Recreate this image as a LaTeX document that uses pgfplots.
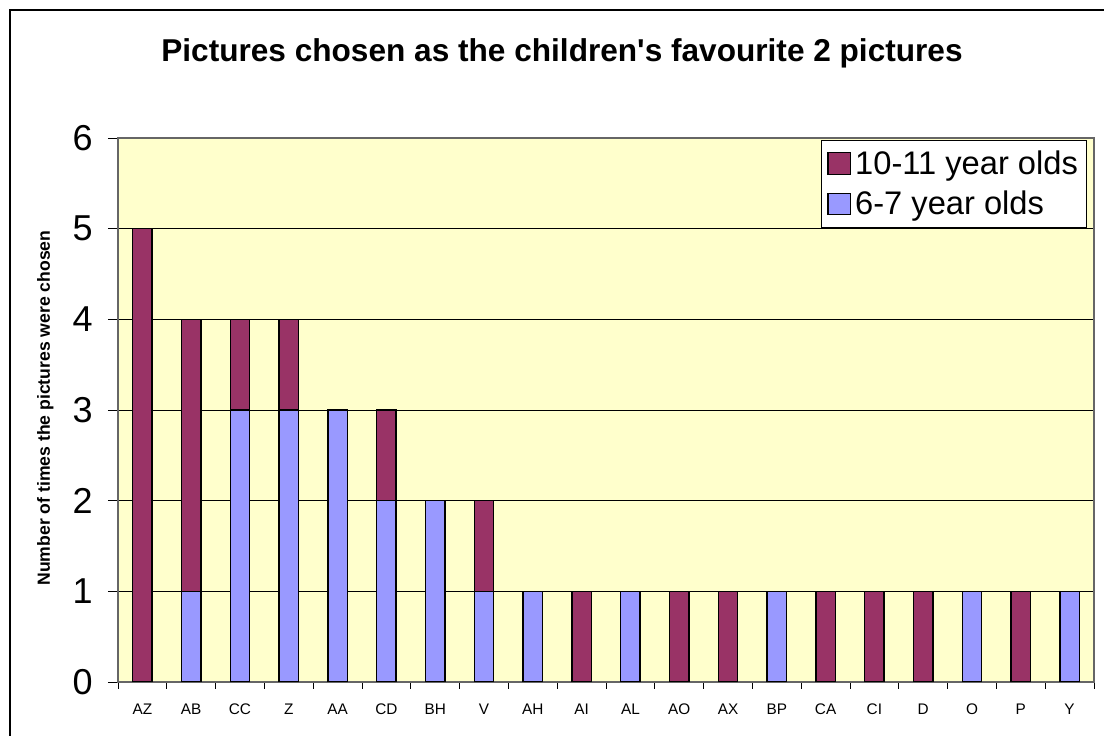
\documentclass[border=0pt]{standalone}
\usepackage{pgfplots}
\pgfplotsset{compat=1.18}
\usepackage{pgfplotstable}
\usepackage{fontspec}
\setmainfont{Liberation Sans}
\definecolor{maroon}{HTML}{993366}
\definecolor{peri}{HTML}{9999FF}
\definecolor{bgy}{HTML}{FFFFCC}
\pgfplotstableread{
x young old
0 0 5
1 1 3
2 3 1
3 3 1
4 3 0
5 2 1
6 2 0
7 1 1
8 1 0
9 0 1
10 1 0
11 0 1
12 0 1
13 1 0
14 0 1
15 0 1
16 0 1
17 1 0
18 0 1
19 1 0
}\datatable
\begin{document}
\begin{tikzpicture}
\useasboundingbox (0,0) rectangle (828pt,552pt);
\draw[black, line width=0.8pt] (7.5pt,0) -- (7.5pt,544.5pt) -- (828pt,544.5pt);
\node[font=\bfseries\fontsize{23.7}{27}\selectfont] at (421.5pt,512pt) {Pictures chosen as the children\textquotesingle s favourite 2 pictures};
\begin{axis}[
  at={(88.5pt,40.5pt)}, anchor=south west,
  scale only axis, width=732pt, height=408pt,
  ybar stacked, bar width=0.4,
  xmin=-0.5, xmax=19.5, ymin=0, ymax=6,
  axis background/.style={fill=bgy},
  axis line style={draw=black!60, line width=0.8pt},
  ytick={0,...,6}, ytick pos=left, xtick pos=bottom,
  tick align=outside,
  major tick length=7.5pt,
  ymajorgrids, major grid style={black, line width=0.5pt},
  xtick={0,...,19},
  xticklabels={AZ,AB,CC,Z,AA,CD,BH,V,AH,AI,AL,AO,AX,BP,CA,CI,D,O,P,Y},
  major x tick style={draw=none},
  minor xtick={-0.5,0.5,...,19.5},
  minor tick length=5pt,
  minor x tick style={black, line width=0.6pt},
  major y tick style={black, line width=0.6pt},
  /pgf/number format/assume math mode=true,
  yticklabel style={font=\fontsize{27}{30}\selectfont, xshift=-8pt},
  xticklabel style={font=\fontsize{11.5}{13}\selectfont, text height=8.5pt, text depth=2pt, yshift=-5pt},
  reverse legend,
  legend style={at={(rel axis cs:0.992,0.997)}, anchor=north east, draw=black, fill=white,
     font=\fontsize{24.5}{28}\selectfont, inner xsep=5pt, inner ysep=7pt, row sep=9pt,
     nodes={inner sep=1pt}},
  legend cell align=left,
  legend image code/.code={\draw[#1, draw=black, line width=0.8pt] (0pt,-8pt) rectangle (17pt,8pt);},
]
\addplot[fill=peri, draw=black, line width=1.1pt] table[x=x, y=young] {\datatable};
\addplot[fill=maroon, draw=black, line width=1.1pt] table[x=x, y=old] {\datatable};
\legend{\hspace{2pt}6-7 year olds, \hspace{2pt}10-11 year olds}
\end{axis}
\node[rotate=90, font=\bfseries\fontsize{13.2}{15}\selectfont] at (34pt,246pt) {Number of times the pictures were chosen};
\end{tikzpicture}
\end{document}
